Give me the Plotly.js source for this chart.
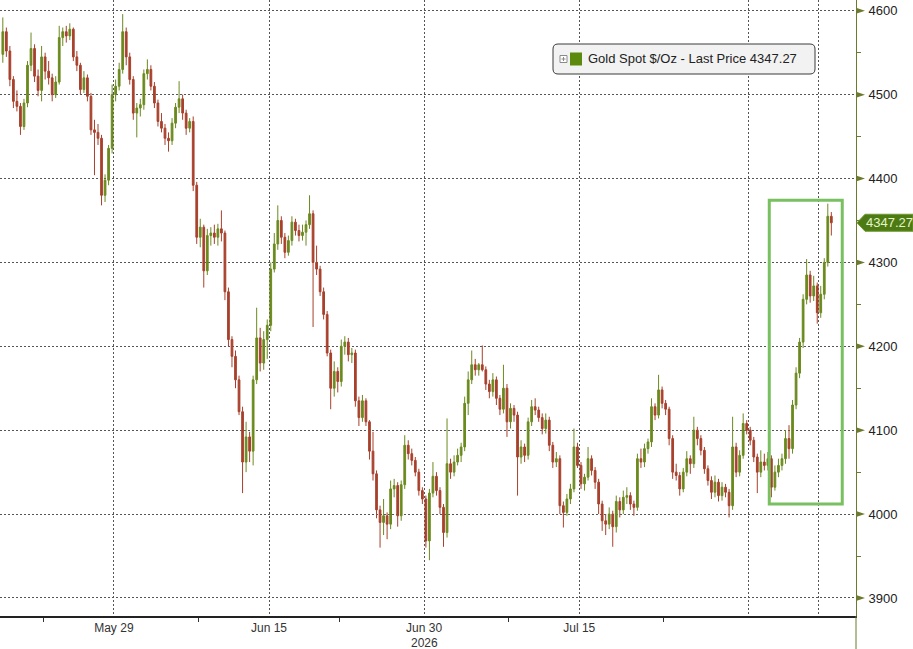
<!DOCTYPE html>
<html><head><meta charset="utf-8">
<script src="https://cdn.plot.ly/plotly-3.0.1.min.js"></script>
<style>html,body{margin:0;padding:0;background:#fff;}#chart{width:913px;height:649px;}</style>
</head><body><div id="chart"></div>
<script>
// ---- data ----
const startDate = '2026-05-19';
const endDate = '2026-08-07';
const barsPerDay = 4;

const open = [
4548,4575,4552,4518,4492,4486,4462,4490,4535,4555,
4522,4505,4545,4528,4520,4500,4515,4568,4575,4570,
4578,4545,4535,4506,4520,4498,4458,4455,4448,4380,
4398,4436,4500,4510,4530,4575,4545,4518,4478,4484,
4488,4525,4530,4510,4490,4468,4460,4448,4445,4466,
4485,4495,4478,4460,4468,4392,4330,4342,4290,4332,
4335,4330,4340,4335,4265,4208,4188,4160,4122,4062,
4092,4075,4160,4210,4180,4208,4225,4292,4322,4350,
4330,4312,4326,4348,4338,4332,4336,4345,4358,4300,
4292,4265,4238,4192,4150,4170,4158,4200,4205,4190,
4192,4135,4115,4135,4110,4075,4048,4005,3990,3998,
3988,4030,4034,3998,4035,4082,4072,4064,4050,4028,
4018,3968,4025,4045,4028,4008,3978,4060,4050,4062,
4070,4080,4132,4160,4178,4172,4178,4172,4155,4146,
4160,4138,4125,4150,4110,4126,4118,4068,4080,4070,
4110,4128,4124,4115,4102,4112,4082,4062,4066,4010,
4002,4018,4030,4080,4058,4036,4044,4066,4052,4038,
4012,3992,3988,4000,3985,4015,4005,4020,4022,4012,
4008,4066,4062,4078,4086,4128,4118,4148,4132,4125,
4090,4050,4046,4030,4050,4066,4060,4100,4090,4076,
4054,4040,4026,4038,4022,4032,4026,4010,4080,4050,
4070,4108,4100,4088,4068,4050,4062,4058,4066,4032,
4050,4058,4066,4090,4078,4130,4168,4205,4256,4285,
4260,4272,4240,4262,4300,4355];

const high = [
4592,4580,4558,4522,4505,4490,4495,4540,4574,4560,
4530,4558,4550,4540,4525,4522,4582,4580,4582,4585,
4580,4552,4538,4528,4524,4502,4470,4465,4452,4405,
4440,4512,4518,4538,4596,4580,4550,4522,4490,4495,
4530,4542,4535,4515,4494,4478,4465,4455,4472,4490,
4516,4500,4482,4472,4474,4396,4352,4345,4340,4342,
4345,4346,4362,4338,4270,4212,4195,4165,4128,4110,
4098,4165,4246,4222,4218,4232,4300,4335,4368,4355,
4335,4332,4355,4352,4345,4345,4350,4380,4362,4320,
4296,4270,4242,4196,4182,4175,4208,4212,4210,4198,
4196,4140,4142,4138,4112,4098,4052,4010,4018,4002,
4040,4042,4038,4040,4094,4088,4078,4068,4054,4032,
4022,4030,4062,4050,4032,4012,4114,4066,4070,4078,
4085,4140,4170,4195,4185,4180,4201,4176,4160,4168,
4164,4142,4178,4155,4132,4130,4122,4088,4084,4115,
4136,4138,4128,4120,4120,4116,4086,4074,4070,4015,
4024,4036,4102,4085,4062,4048,4080,4070,4056,4042,
4016,4000,4008,4004,4022,4020,4028,4032,4026,4016,
4072,4078,4084,4090,4138,4132,4166,4152,4136,4128,
4094,4060,4050,4055,4075,4070,4116,4104,4094,4080,
4058,4045,4046,4042,4038,4036,4030,4116,4085,4076,
4120,4112,4104,4092,4072,4076,4072,4074,4070,4058,
4066,4072,4100,4106,4136,4175,4210,4262,4304,4290,
4284,4276,4272,4305,4370,4360];

const low = [
4538,4545,4510,4484,4480,4452,4458,4485,4528,4515,
4498,4492,4518,4512,4492,4496,4512,4558,4562,4565,
4540,4528,4500,4502,4492,4452,4404,4440,4368,4372,
4392,4430,4492,4505,4525,4535,4512,4470,4449,4474,
4482,4518,4505,4484,4462,4455,4440,4432,4440,4460,
4478,4470,4452,4455,4385,4322,4318,4270,4285,4320,
4322,4320,4325,4255,4200,4175,4150,4118,4025,4050,
4062,4058,4155,4170,4172,4185,4218,4288,4315,4322,
4305,4308,4320,4332,4325,4326,4320,4340,4223,4285,
4260,4232,4188,4125,4140,4145,4152,4190,4182,4180,
4128,4105,4110,4105,4065,4040,3995,3960,3975,3970,
3982,4020,3985,3992,4030,4065,4058,4045,4022,4012,
3960,3945,4020,4022,4000,3961,3972,4042,4045,4058,
4062,4075,4118,4155,4165,4165,4170,4148,4138,4140,
4130,4118,4120,4092,4102,4110,4022,4060,4062,4065,
4105,4118,4110,4095,4096,4075,4055,4056,4000,3984,
3998,4012,4026,4055,4030,4028,4040,4046,4030,4000,
3980,3975,3982,3961,3978,3996,4000,4012,4005,3998,
4004,4055,4056,4072,4080,4112,4114,4126,4118,4082,
4042,4040,4022,4026,4045,4048,4055,4082,4070,4048,
4034,4018,4020,4015,4016,4020,3996,4005,4044,4045,
4066,4095,4082,4062,4025,4044,4052,4052,4020,4028,
4044,4052,4060,4066,4072,4125,4162,4198,4250,4252,
4254,4227,4234,4256,4295,4332];

const close = [
4575,4552,4518,4492,4486,4462,4490,4535,4555,4522,
4505,4545,4528,4520,4500,4515,4568,4575,4570,4578,
4545,4535,4506,4520,4498,4458,4455,4448,4380,4398,
4436,4500,4510,4530,4575,4545,4518,4478,4484,4488,
4525,4530,4510,4490,4468,4460,4448,4445,4466,4485,
4495,4478,4460,4468,4392,4330,4342,4290,4332,4335,
4330,4340,4335,4265,4208,4188,4160,4122,4062,4092,
4075,4160,4210,4180,4208,4225,4292,4322,4350,4330,
4312,4326,4348,4338,4332,4336,4345,4358,4300,4292,
4265,4238,4192,4150,4170,4158,4200,4205,4190,4192,
4135,4115,4135,4110,4075,4048,4005,3990,3998,3988,
4030,4034,3998,4035,4082,4072,4064,4050,4028,4018,
3968,4025,4045,4028,4008,3978,4060,4050,4062,4070,
4080,4132,4160,4178,4172,4178,4172,4155,4146,4160,
4138,4125,4150,4110,4126,4118,4068,4080,4070,4110,
4128,4124,4115,4102,4112,4082,4062,4066,4010,4002,
4018,4030,4080,4058,4036,4044,4066,4052,4038,4012,
3992,3988,4000,3985,4015,4005,4020,4022,4012,4008,
4066,4062,4078,4086,4128,4118,4148,4132,4125,4090,
4050,4046,4030,4050,4066,4060,4100,4090,4076,4054,
4040,4026,4038,4022,4032,4026,4010,4080,4050,4070,
4108,4100,4088,4068,4050,4062,4058,4066,4032,4050,
4058,4066,4090,4078,4130,4168,4205,4256,4285,4260,
4272,4240,4262,4300,4355,4347.27];

const majorTickDates = ['2026-05-29','2026-06-15','2026-06-30','2026-07-15','2026-07-31','2026-08-07'];
const majorTickLabels = ['May 29','Jun 15','Jun 30','Jul 15','',''];
const minorTickDates = ['2026-05-22','2026-06-08','2026-06-22','2026-07-08','2026-07-23'];
const yearLabel = '2026';
const yearLabelDate = '2026-06-30';
const priceTicks = [3900,4000,4100,4200,4300,4400,4500,4600];
const lastPrice = 4347.27;
const seriesName = 'Gold Spot $/Oz - Last Price';
// highlighted region (bar index / price)
const highlightBars = [217.4, 238.1];
const highlightPrices = [4012, 4374];

// ---- layout constants ----
const Y_RANGE = [3878.5, 4612.8];
const X_RANGE = [-0.8, 242.0];
const W = 913, H = 649;
const M = {l:0, r:57, t:0, b:33};
const PW = W - M.l - M.r, PH = H - M.t - M.b;
const AXIS_COL = '#6b7a2e';
const UP = '#6b8a1e', DOWN = '#a8402c';
const GRID_COL = '#555555';

function tradingDays(a, b){
  const out = []; let d = new Date(a + 'T00:00:00Z'); const e = new Date(b + 'T00:00:00Z');
  while (d <= e){ const w = d.getUTCDay(); if (w !== 0 && w !== 6) out.push(d.toISOString().slice(0,10)); d = new Date(d.getTime() + 86400000); }
  return out;
}
const days = tradingDays(startDate, endDate);
const datePos = d => days.indexOf(d) * barsPerDay - 0.5;
const x = close.map((_, i) => i);
const py = p => (p - Y_RANGE[0]) / (Y_RANGE[1] - Y_RANGE[0]);
const pxX = px => px / PW;
const pxY = px => px / PH;

const trace = {
  type: 'candlestick', x: x, open: open, high: high, low: low, close: close,
  increasing: {line: {color: UP, width: 1}, fillcolor: UP},
  decreasing: {line: {color: DOWN, width: 1}, fillcolor: DOWN},
  whiskerwidth: 0, hoverinfo: 'skip', name: seriesName
};

const shapes = [];
// y-axis tick triangles
priceTicks.forEach(p => {
  const c = py(p), h = pxY(3);
  shapes.push({type:'path', xref:'paper', yref:'paper', layer:'above',
    path:`M 1,${c+h} L ${1+pxX(9)},${c} L 1,${c-h} Z`, fillcolor: AXIS_COL, line:{width:0}});
});
// y-axis line extended below the x-axis
shapes.push({type:'line', xref:'paper', yref:'paper', x0:1, x1:1, y0:0, y1:-pxY(33), line:{color:AXIS_COL, width:1}});
// highlight rectangle
shapes.push({type:'rect', xref:'x', yref:'y', x0:highlightBars[0], x1:highlightBars[1], y0:highlightPrices[0], y1:highlightPrices[1],
  line:{color:'#78c060', width:3}, fillcolor:'rgba(0,0,0,0)', layer:'above'});
// legend box (rounded)
(function(){
  const x0 = pxX(553), x1 = pxX(815), y0 = 1 - pxY(44), y1 = 1 - pxY(74);
  const rx = pxX(5), ry = pxY(5);
  shapes.push({type:'path', xref:'paper', yref:'paper', layer:'above',
    path:`M ${x0+rx},${y0} L ${x1-rx},${y0} Q ${x1},${y0} ${x1},${y0-ry} L ${x1},${y1+ry} Q ${x1},${y1} ${x1-rx},${y1} L ${x0+rx},${y1} Q ${x0},${y1} ${x0},${y1+ry} L ${x0},${y0-ry} Q ${x0},${y0} ${x0+rx},${y0} Z`,
    fillcolor:'#f2f2f2', line:{color:'#3a3a3a', width:1}});
  // small expander box
  shapes.push({type:'rect', xref:'paper', yref:'paper', layer:'above', x0:pxX(560), x1:pxX(567), y0:1-pxY(55.5), y1:1-pxY(62.5), line:{color:'#8a8a8a', width:1}, fillcolor:'#ffffff'});
  shapes.push({type:'line', xref:'paper', yref:'paper', layer:'above', x0:pxX(561.5), x1:pxX(565.5), y0:1-pxY(59), y1:1-pxY(59), line:{color:'#8a8a8a', width:1}});
  shapes.push({type:'line', xref:'paper', yref:'paper', layer:'above', x0:pxX(563.5), x1:pxX(563.5), y0:1-pxY(57), y1:1-pxY(61), line:{color:'#8a8a8a', width:1}});
  // colour swatch
  shapes.push({type:'rect', xref:'paper', yref:'paper', layer:'above', x0:pxX(570), x1:pxX(582), y0:1-pxY(52.5), y1:1-pxY(65.5), line:{width:0}, fillcolor:'#5b8a0e'});
})();
// last price tag
(function(){
  const c = py(lastPrice), h = pxY(8.5);
  shapes.push({type:'path', xref:'paper', yref:'paper', layer:'above',
    path:`M ${1+pxX(1)},${c} L ${1+pxX(9)},${c+h} L ${1+pxX(57)},${c+h} L ${1+pxX(57)},${c-h} L ${1+pxX(9)},${c-h} Z`,
    fillcolor:'#4d7a12', line:{color:'#6e9a30', width:1}});
})();

const annotations = [
  {xref:'x', yref:'paper', x:datePos(yearLabelDate), y:-pxY(27), text:yearLabel, showarrow:false,
   font:{size:12, color:'#333'}, xanchor:'center', yanchor:'middle'},
  {xref:'paper', yref:'paper', x:pxX(586), y:1-pxY(59), text:seriesName + ' ' + lastPrice.toFixed(2), showarrow:false,
   font:{size:13, color:'#222'}, xanchor:'left', yanchor:'middle'},
  {xref:'paper', yref:'paper', x:1+pxX(33), y:py(lastPrice), text:lastPrice.toFixed(2), showarrow:false,
   font:{size:13, color:'#e4f4c8'}, xanchor:'center', yanchor:'middle'}
];

const layout = {
  width: W, height: H, margin: M,
  paper_bgcolor:'#ffffff', plot_bgcolor:'#ffffff',
  font:{family:'"Liberation Sans", Arial, sans-serif', size:12, color:'#333'},
  showlegend:false, hovermode:false, dragmode:false,
  xaxis:{
    range:X_RANGE, rangeslider:{visible:false}, fixedrange:true,
    tickmode:'array', tickvals:majorTickDates.map(datePos), ticktext:majorTickLabels,
    ticks:'', showgrid:true, gridcolor:GRID_COL, griddash:'2px,2px', gridwidth:1,
    showline:true, linecolor:'#222', linewidth:1.5, zeroline:false,
    tickfont:{size:12, color:'#333'},
    minor:{tickmode:'array', tickvals:minorTickDates.map(datePos), ticks:'outside', ticklen:4, tickcolor:'#333', tickwidth:1, showgrid:false}
  },
  yaxis:{
    side:'right', range:Y_RANGE, fixedrange:true,
    tickmode:'array', tickvals:priceTicks, ticktext:priceTicks.map(String),
    ticks:'', ticklabelstandoff:9,
    showgrid:true, gridcolor:GRID_COL, griddash:'2px,2px', gridwidth:1,
    showline:true, linecolor:AXIS_COL, linewidth:1, zeroline:false,
    tickfont:{size:13, color:'#222'},
    minor:{dtick:50, tick0:0, ticks:'outside', ticklen:4, tickcolor:AXIS_COL, tickwidth:1, showgrid:false}
  },
  shapes: shapes, annotations: annotations
};

Plotly.newPlot('chart', [trace], layout, {staticPlot:true, displayModeBar:false});
</script>
</body></html>
